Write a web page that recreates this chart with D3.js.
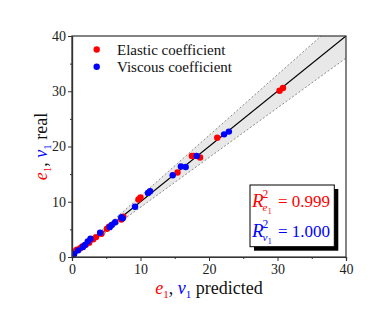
<!DOCTYPE html>
<html><head><meta charset="utf-8">
<script src="https://cdn.jsdelivr.net/npm/d3@7"></script>
<style>body{margin:0;background:#fff}svg{display:block}</style>
</head><body><svg id="c" width="389" height="309"></svg>
<script>
const elasticPred = [0.1,0.15,0.4,0.7,1.2,1.5,2.0,2.5,3.1,3.5,4.3,5.1,5.4,7.2,7.5,9.7,10.0,15.4,17.5,17.8,18.7,21.2,30.3,30.8];
const elasticReal = [0.3,0.6,1.0,1.3,1.6,1.9,2.2,2.6,3.2,3.6,4.2,5.1,5.5,6.8,7.3,10.4,10.8,15.3,18.3,18.3,18.0,21.6,30.1,30.6];
const viscousPred = [0.3,0.9,1.6,1.9,2.3,2.7,4.1,5.5,5.8,6.3,7.2,7.4,9.2,11.1,11.4,14.7,15.9,16.6,18.2,22.2,22.9];
const viscousReal = [0.5,1.2,1.8,2.2,2.8,3.3,4.4,5.4,5.8,6.3,7.2,7.0,9.1,11.6,11.9,14.8,16.4,16.3,18.3,22.2,22.7];
const majorTicks = [0,10,20,30,40];
const minorTicks = [5,15,25,35];
const legendLabels = ["Elastic coefficient","Viscous coefficient"];
const r2Values = ["0.999","1.000"];
const bandFactor = [0.9,1.1];

const FF = '"Liberation Serif","Times New Roman",Times,serif';
const svg = d3.select("#c");
const L=72,R=346,T=36,B=257;
const x = d3.scaleLinear().domain([0,40]).range([L,R]);
const y = d3.scaleLinear().domain([0,40]).range([B,T]);

svg.append("defs").append("clipPath").attr("id","clip").append("rect")
  .attr("x",L).attr("y",T).attr("width",R-L).attr("height",B-T);
const g = svg.append("g").attr("clip-path","url(#clip)");

const bx = [0,50];
const area = bx.map(v=>[x(v),y(v*bandFactor[1])]).concat(bx.slice().reverse().map(v=>[x(v),y(v*bandFactor[0])]));
g.append("path").attr("d","M"+area.map(p=>p.join(",")).join("L")+"Z").attr("fill","#e8e8e8");
bandFactor.forEach(f=>{
  g.append("line").attr("x1",x(0)).attr("y1",y(0)).attr("x2",x(50)).attr("y2",y(50*f))
   .attr("stroke","#8a8a8a").attr("stroke-width",1).attr("stroke-dasharray","2,2");
});
g.append("line").attr("x1",x(0)).attr("y1",y(0)).attr("x2",x(40)).attr("y2",y(40))
  .attr("stroke","#000").attr("stroke-width",1.2);

const pts = (px,py,col)=>g.append("g").selectAll("circle").data(px.map((v,i)=>[v,py[i]])).join("circle")
  .attr("cx",d=>x(d[0])).attr("cy",d=>y(d[1])).attr("r",3.2).attr("fill",col);
pts(elasticPred,elasticReal,"#ff0000");
pts(viscousPred,viscousReal,"#0000ff");

svg.append("rect").attr("x",L).attr("y",T).attr("width",R-L).attr("height",B-T)
  .attr("fill","none").attr("stroke","#333").attr("stroke-width",1.2);

svg.append("g").attr("transform",`translate(0,${B})`)
  .call(d3.axisBottom(x).tickValues(majorTicks).tickSize(4).tickPadding(3));
svg.append("g").attr("transform",`translate(0,${B})`)
  .call(d3.axisBottom(x).tickValues(minorTicks).tickSize(2).tickFormat(""));
svg.append("g").attr("transform",`translate(${L},0)`)
  .call(d3.axisLeft(y).tickValues(majorTicks).tickSize(4).tickPadding(2));
svg.append("g").attr("transform",`translate(${L},0)`)
  .call(d3.axisLeft(y).tickValues(minorTicks).tickSize(2).tickFormat(""));
svg.selectAll(".domain").attr("stroke","#333").attr("stroke-width",1.2);
svg.selectAll(".tick line").attr("stroke","#333");
svg.selectAll(".tick text").attr("font-size",14).attr("fill","#222");

const cols=["#ff0000","#0000ff"];
legendLabels.forEach((t,i)=>{
  svg.append("circle").attr("cx",96.7).attr("cy",49.5+i*17.3).attr("r",3.2).attr("fill",cols[i]);
  svg.append("text").attr("x",117).attr("y",55+i*17.3).attr("font-size",15).attr("fill","#111").text(t);
});

svg.append("rect").attr("x",254).attr("y",189).attr("width",84.3).attr("height",61.7).attr("fill","#000");
svg.append("rect").attr("x",250).attr("y",185).attr("width",84.3).attr("height",61.7).attr("fill","#fff").attr("stroke","#000").attr("stroke-width",1);
const subs=["e","v"];
r2Values.forEach((v,i)=>{
  const dy=i*30;
  svg.append("text").attr("x",252).attr("y",207+dy).attr("font-size",19).attr("fill",cols[i]).attr("font-style","italic").text("R");
  const sx = 262.5;
  svg.append("text").attr("x",sx).attr("y",198+dy).attr("font-size",11.5).attr("fill",cols[i]).text("2");
  svg.append("text").attr("x",sx).attr("y",211+dy).attr("font-size",11).attr("fill",cols[i]).attr("font-style","italic").text(subs[i]);
  svg.append("text").attr("x",sx+5.3).attr("y",214+dy).attr("font-size",8).attr("fill",cols[i]).text("1");
  svg.append("text").attr("x",278).attr("y",207+dy).attr("font-size",17).attr("fill",cols[i]).text("= "+v);
});

function axisLabel(sel, suffix){
  sel.append("tspan").attr("font-style","italic").attr("fill","#ff0000").text("e");
  sel.append("tspan").attr("fill","#ff0000").attr("font-size",11).attr("dy",4).text("1");
  sel.append("tspan").attr("fill","#111").attr("dy",-4).text(", ");
  sel.append("tspan").attr("font-style","italic").attr("fill","#0000ff").text("v");
  sel.append("tspan").attr("fill","#0000ff").attr("font-size",11).attr("dy",4).text("1");
  sel.append("tspan").attr("fill","#111").attr("dy",-4).text(" "+suffix);
}
const xl = svg.append("text").attr("x",(L+R)/2).attr("y",294).attr("text-anchor","middle").attr("font-size",18);
axisLabel(xl,"predicted");
const yl = svg.append("text").attr("transform",`translate(47,${(T+B)/2}) rotate(-90)`).attr("text-anchor","middle").attr("font-size",18);
axisLabel(yl,"real");
svg.selectAll("text").style("font-family",FF);
</script></body></html>
